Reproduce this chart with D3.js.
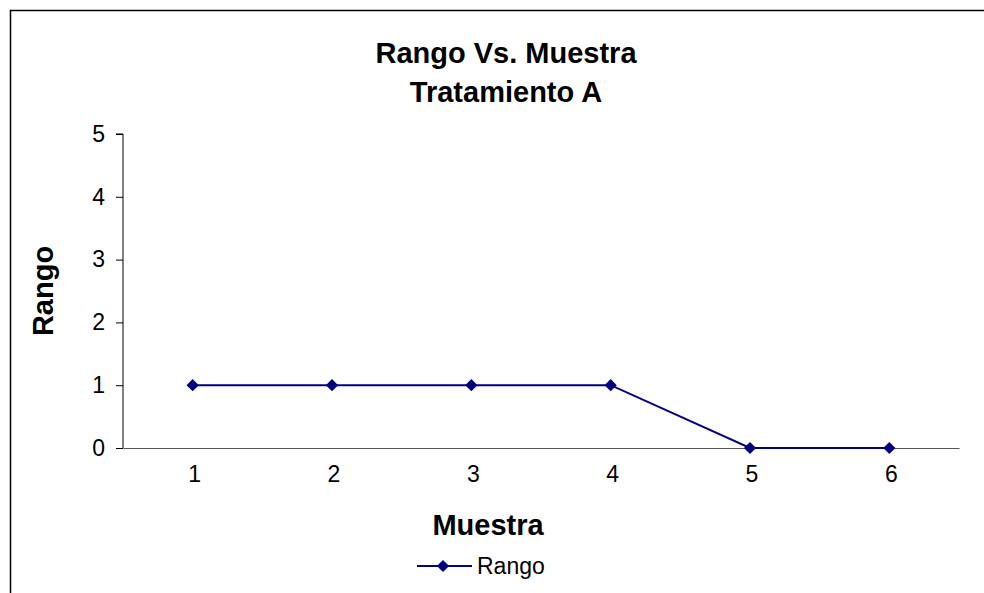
<!DOCTYPE html>
<html><head><meta charset="utf-8">
<script src="https://cdn.jsdelivr.net/npm/d3@7"></script>
<style>body{margin:0;background:#fff}svg{display:block}text{font-family:"Liberation Sans",Arial,sans-serif}</style>
</head><body><svg id="c" width="984" height="593"></svg>
<script>
const categories = [1, 2, 3, 4, 5, 6];
const rangoValues = [1, 1, 1, 1, 0, 0];
const yTicks = [0, 1, 2, 3, 4, 5];
const titleLines = ["Rango Vs. Muestra", "Tratamiento A"];
const xTitle = "Muestra";
const yTitle = "Rango";
const seriesName = "Rango";

const svg = d3.select("#c");
const color = "#000080";
svg.append("rect").attr("x", 10.5).attr("y", 10.5).attr("width", 1000).attr("height", 700)
  .attr("fill", "none").attr("stroke", "#000").attr("stroke-width", 1.5);

const plot = {left: 123, right: 959, top: 134, bottom: 448};
const x = d3.scaleBand().domain(categories).range([plot.left, plot.right]);
const y = d3.scaleLinear().domain([0, 5]).range([plot.bottom, plot.top]);

const tickFont = 23;
const ya = svg.append("g").attr("transform", `translate(${plot.left},0)`)
  .call(d3.axisLeft(y).tickValues(yTicks).tickSize(7).tickPadding(11).tickFormat(d3.format("d")));
ya.select(".domain").attr("stroke", "#000").attr("d", `M-7,${plot.top}H0V${plot.bottom}`);
ya.selectAll(".tick line").attr("stroke", "#000");
ya.selectAll("text").attr("font-size", tickFont).attr("fill", "#000").style("font-family", "Liberation Sans, Arial, sans-serif");

const xa = svg.append("g").attr("transform", `translate(0,${plot.bottom})`)
  .call(d3.axisBottom(x).tickSize(0).tickPadding(18));
xa.select(".domain").attr("stroke", "#555").attr("stroke-width", 1.2);
xa.selectAll("text").attr("font-size", tickFont).attr("fill", "#000").attr("dx", 2).style("font-family", "Liberation Sans, Arial, sans-serif");

const cx = d => x(d) + x.bandwidth() / 2;
const line = d3.line().x((d, i) => cx(categories[i])).y(d => y(d));
svg.append("path").datum(rangoValues).attr("d", line).attr("fill", "none")
  .attr("stroke", color).attr("stroke-width", 2);
const diamond = d3.symbol().type(d3.symbolDiamond2).size(95);
svg.selectAll(".m").data(rangoValues).join("path").attr("class", "m")
  .attr("d", diamond)
  .attr("transform", (d, i) => `translate(${cx(categories[i])},${y(d)})`)
  .attr("fill", color);

const titleFont = 29;
svg.append("text").attr("x", 506).attr("y", 63).attr("text-anchor", "middle")
  .attr("font-size", titleFont).attr("font-weight", "bold").text(titleLines[0]);
svg.append("text").attr("x", 506).attr("y", 102).attr("text-anchor", "middle")
  .attr("font-size", titleFont).attr("font-weight", "bold").text(titleLines[1]);
svg.append("text").attr("x", 488).attr("y", 535).attr("text-anchor", "middle")
  .attr("font-size", titleFont).attr("font-weight", "bold").text(xTitle);
svg.append("text").attr("transform", "translate(53,291) rotate(-90)").attr("text-anchor", "middle")
  .attr("font-size", titleFont).attr("font-weight", "bold").text(yTitle);

const lg = svg.append("g");
lg.append("line").attr("x1", 417).attr("x2", 472).attr("y1", 566).attr("y2", 566)
  .attr("stroke", color).attr("stroke-width", 2);
lg.append("path").attr("d", diamond).attr("transform", "translate(443,566)").attr("fill", color);
lg.append("text").attr("x", 477).attr("y", 574).attr("font-size", tickFont).text(seriesName);
</script></body></html>
